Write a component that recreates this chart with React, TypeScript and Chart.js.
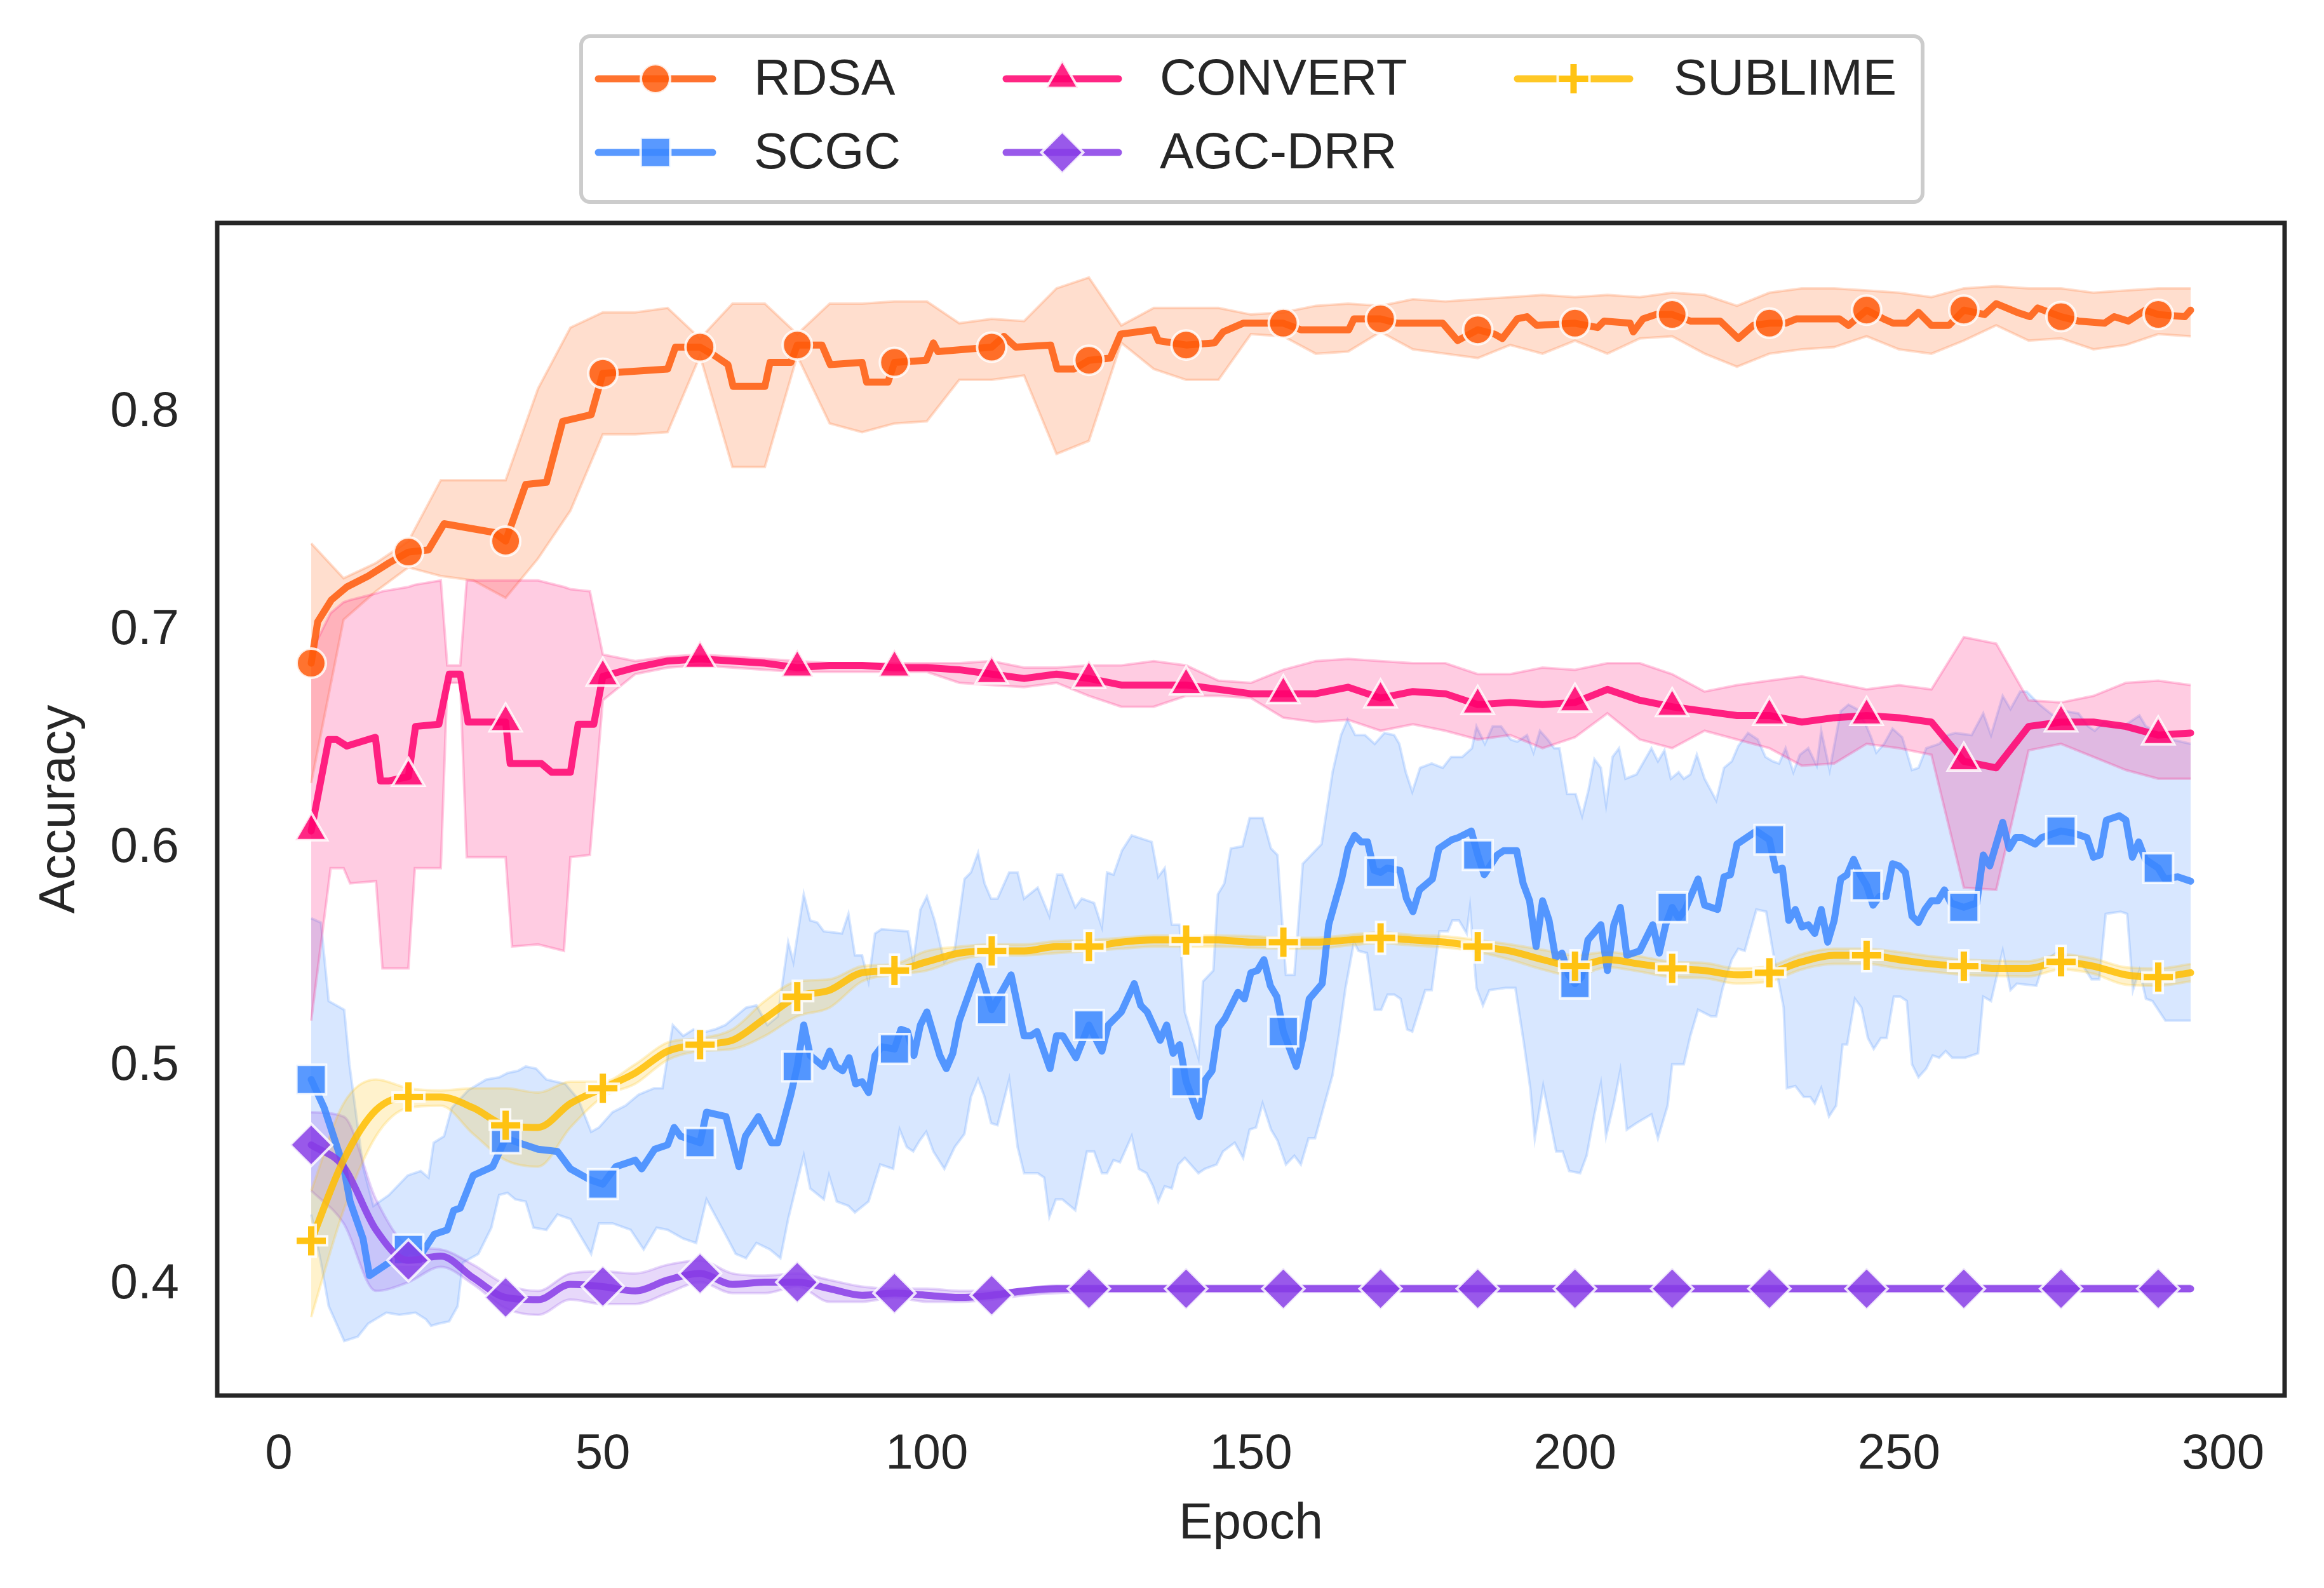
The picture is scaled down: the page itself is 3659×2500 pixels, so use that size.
import React, { useEffect, useRef } from 'react';
import { Chart, registerables } from 'chart.js';
import { drawPoint } from 'chart.js/helpers';

Chart.register(...registerables);

// ---------------- data ----------------
const epochs = [5, 10, 15, 20, 25, 30, 35, 40, 45, 50, 55, 60, 65, 70, 75, 80, 85, 90, 95, 100, 105, 110, 115, 120, 125, 130, 135, 140, 145, 150, 155, 160, 165, 170, 175, 180, 185, 190, 195, 200, 205, 210, 215, 220, 225, 230, 235, 240, 245, 250, 255, 260, 265, 270, 275, 280, 285, 290, 295];

// RDSA
const rdsaLineEpochs = [5, 6, 8.1, 10.5, 13.8, 17, 20, 23.1, 25.5, 33.2, 35, 38.1, 41.3, 43.8, 48.2, 50, 60, 61.2, 65, 67.3, 69.3, 70.1, 75, 75.8, 79, 80, 83.8, 85.1, 90, 90.7, 94, 95, 99.9, 101, 101.7, 110, 111.9, 113.7, 119.1, 120.1, 122.7, 125, 128.3, 129.9, 135, 135.7, 140, 144.4, 145.7, 148.8, 155, 157.7, 165.1, 165.9, 170, 172.6, 179.6, 181.9, 185, 187.6, 188.8, 191.1, 192.6, 194.1, 200, 203.5, 204.5, 208.5, 209, 210.5, 212.5, 215, 217.8, 222.4, 225.2, 227.5, 230, 232.5, 234.2, 240.8, 242.2, 245, 247.6, 249.1, 251.2, 253, 255, 257.7, 260, 263.2, 265, 268.2, 270.2, 271.4, 275, 277.7, 281.7, 283.2, 285.4, 288, 290, 294.1, 295];
const rdsaLine = [0.685, 0.704, 0.714, 0.720, 0.725, 0.731, 0.736, 0.737, 0.749, 0.745, 0.741, 0.767, 0.768, 0.796, 0.799, 0.818, 0.820, 0.830, 0.830, 0.826, 0.822, 0.812, 0.812, 0.823, 0.823, 0.831, 0.831, 0.822, 0.823, 0.814, 0.814, 0.823, 0.824, 0.832, 0.828, 0.830, 0.835, 0.830, 0.831, 0.820, 0.820, 0.824, 0.825, 0.836, 0.838, 0.833, 0.831, 0.832, 0.837, 0.841, 0.841, 0.838, 0.838, 0.843, 0.843, 0.841, 0.841, 0.833, 0.838, 0.836, 0.834, 0.843, 0.844, 0.840, 0.841, 0.839, 0.842, 0.841, 0.837, 0.843, 0.845, 0.845, 0.842, 0.842, 0.834, 0.840, 0.841, 0.841, 0.843, 0.843, 0.840, 0.847, 0.843, 0.841, 0.841, 0.846, 0.840, 0.840, 0.847, 0.845, 0.850, 0.846, 0.844, 0.848, 0.844, 0.842, 0.841, 0.844, 0.842, 0.847, 0.845, 0.844, 0.847];
const rdsaLow = [0.630, 0.705, 0.718, 0.729, 0.725, 0.723, 0.715, 0.733, 0.755, 0.790,
  0.790, 0.791, 0.826, 0.775, 0.775, 0.826, 0.795, 0.791, 0.795, 0.796,
  0.815, 0.815, 0.817, 0.781, 0.787, 0.832, 0.820, 0.815, 0.815, 0.836,
  0.835, 0.827, 0.828, 0.837, 0.829, 0.827, 0.825, 0.831, 0.827, 0.833,
  0.827, 0.834, 0.835, 0.827, 0.821, 0.827, 0.829, 0.830, 0.835, 0.829,
  0.827, 0.833, 0.840, 0.833, 0.834, 0.829, 0.831, 0.836, 0.835];
const rdsaHigh = [0.740, 0.724, 0.731, 0.741, 0.769, 0.769, 0.769, 0.811, 0.839, 0.846,
  0.846, 0.848, 0.834, 0.850, 0.850, 0.836, 0.850, 0.850, 0.851, 0.851,
  0.841, 0.843, 0.842, 0.857, 0.862, 0.840, 0.848, 0.848, 0.848, 0.845,
  0.846, 0.849, 0.850, 0.849, 0.852, 0.851, 0.852, 0.853, 0.854, 0.853,
  0.854, 0.853, 0.855, 0.854, 0.849, 0.855, 0.857, 0.857, 0.856, 0.855,
  0.853, 0.857, 0.858, 0.857, 0.857, 0.855, 0.856, 0.857, 0.857];

// SCGC
const scgcLineEpochs = [5, 7, 10, 11, 13, 14, 17, 19, 20, 22, 24, 26, 27, 28, 30, 33, 35, 38, 40, 43, 45, 48, 50, 52, 55, 56, 58, 60, 61, 62, 65, 66, 69, 71, 72, 74, 76, 77, 79, 80, 81, 82, 84, 85, 86, 87, 88, 89, 90, 91, 92, 93, 95, 96, 97, 98, 99, 100, 102, 103, 104, 105, 108, 110, 113, 115, 116, 117, 119, 120, 121, 123, 125, 127, 128, 130, 132, 133, 134, 136, 137, 138, 139, 140, 142, 143, 144, 145, 146, 148, 149, 150, 151, 152, 153, 154, 155, 157, 158, 159, 161, 162, 164, 165, 166, 167, 168, 169, 170, 171, 173, 174, 175, 176, 178, 179, 181, 182, 184, 185, 186, 188, 189, 191, 192, 193, 194, 195, 196, 197, 198, 199, 200, 201, 202, 204, 205, 206, 207, 208, 210, 212, 213, 214, 215, 216, 217, 219, 220, 222, 223, 224, 225, 227, 228, 230, 231, 232, 233, 234, 235, 236, 237, 238, 239, 240, 241, 242, 243, 244, 245, 246, 247, 248, 249, 250, 251, 252, 253, 254, 255, 256, 257, 258, 260, 262, 263, 264, 266, 267, 268, 269, 271, 272, 274, 275, 277, 279, 280, 281, 282, 284, 285, 286, 287, 288, 290, 291, 293, 295];
const scgcLine = [0.494, 0.481, 0.454, 0.438, 0.421, 0.404, 0.410, 0.412, 0.416, 0.414, 0.423, 0.425, 0.434, 0.435, 0.450, 0.454, 0.467, 0.464, 0.462, 0.461, 0.453, 0.448, 0.446, 0.454, 0.457, 0.453, 0.462, 0.464, 0.472, 0.468, 0.465, 0.479, 0.477, 0.454, 0.468, 0.477, 0.465, 0.465, 0.487, 0.500, 0.519, 0.505, 0.500, 0.507, 0.500, 0.498, 0.504, 0.492, 0.493, 0.488, 0.505, 0.509, 0.508, 0.517, 0.516, 0.505, 0.519, 0.525, 0.505, 0.499, 0.506, 0.521, 0.546, 0.526, 0.542, 0.514, 0.514, 0.516, 0.499, 0.514, 0.514, 0.504, 0.519, 0.507, 0.519, 0.525, 0.538, 0.528, 0.525, 0.512, 0.519, 0.506, 0.510, 0.493, 0.477, 0.494, 0.498, 0.518, 0.522, 0.534, 0.531, 0.543, 0.544, 0.549, 0.537, 0.532, 0.516, 0.500, 0.513, 0.531, 0.538, 0.565, 0.586, 0.600, 0.606, 0.603, 0.603, 0.590, 0.589, 0.591, 0.590, 0.577, 0.571, 0.581, 0.586, 0.600, 0.604, 0.605, 0.608, 0.597, 0.588, 0.597, 0.599, 0.599, 0.584, 0.576, 0.555, 0.576, 0.567, 0.550, 0.552, 0.542, 0.538, 0.541, 0.558, 0.565, 0.544, 0.565, 0.573, 0.551, 0.553, 0.565, 0.552, 0.565, 0.573, 0.568, 0.572, 0.586, 0.574, 0.572, 0.587, 0.588, 0.602, 0.606, 0.608, 0.604, 0.590, 0.591, 0.567, 0.572, 0.564, 0.565, 0.561, 0.572, 0.557, 0.567, 0.586, 0.588, 0.595, 0.588, 0.583, 0.574, 0.578, 0.578, 0.593, 0.592, 0.589, 0.569, 0.566, 0.572, 0.576, 0.576, 0.581, 0.575, 0.573, 0.575, 0.597, 0.592, 0.612, 0.600, 0.605, 0.605, 0.602, 0.605, 0.607, 0.608, 0.607, 0.605, 0.596, 0.597, 0.613, 0.615, 0.613, 0.596, 0.603, 0.595, 0.591, 0.586, 0.587, 0.585];
const scgcHighEpochs = [5, 6.5, 7.7, 10.1, 10.9, 13, 14.6, 17, 19.9, 21.9, 23.1, 23.9, 25.5, 26.7, 29.2, 32, 34, 35.3, 36.9, 38.1, 39.7, 41.3, 44.2, 46.2, 48.2, 49.4, 51.5, 53.5, 55.5, 57.9, 59.2, 60.8, 62.4, 64, 66, 67.3, 68.9, 70.5, 72.1, 73.7, 75.4, 77, 78.6, 79.4, 81, 82, 83.1, 84.1, 86.9, 87.9, 88.9, 90, 91, 92, 93, 97.1, 97.9, 99, 100, 101.2, 102.7, 104.3, 105.8, 106.8, 107.9, 108.9, 109.9, 110.9, 112.7, 114, 115, 117.1, 118.9, 120.1, 120.9, 122.9, 123.9, 125.8, 127, 127.8, 128.8, 130.1, 131.6, 134.7, 135.7, 136.7, 137.8, 139, 139.8, 141.9, 142.6, 144.2, 144.9, 145.9, 146.9, 148.7, 149.8, 151.8, 153.1, 154.1, 155.4, 156.7, 158, 160.9, 162.6, 163.9, 164.9, 166.1, 167.6, 169.1, 170.6, 172.1, 172.9, 173.9, 174.9, 176.1, 177.9, 179.6, 180.9, 182.6, 184.1, 184.8, 186.1, 187.3, 188.6, 190.1, 191.1, 192.6, 193.6, 194.6, 195.8, 196.8, 197.6, 198.8, 200.1, 201.1, 202.1, 203, 204, 204.8, 205.8, 206.8, 207.8, 209.5, 211.8, 212.8, 213.8, 214.8, 216, 216.8, 217.8, 218.8, 220, 221.8, 223, 224.2, 225.2, 226.7, 228.2, 229.4, 230.5, 231.5, 232.5, 233.7, 234.7, 236, 237.3, 238, 239.3, 241, 242.2, 243.5, 244.7, 245.7, 246.5, 247.7, 249, 250.5, 252, 253, 254.2, 256.2, 257.5, 258.7, 261.2, 263, 264.2, 266, 267.2, 268.7, 269.7, 271.7, 274.2, 275.7, 277.7, 279.2, 280.2, 281.6, 283.1, 285.1, 287.1, 288.1, 290.1, 292.1, 295];
const scgcHigh = [0.568, 0.566, 0.530, 0.526, 0.501, 0.454, 0.436, 0.441, 0.450, 0.452, 0.449, 0.465, 0.468, 0.481, 0.489, 0.494, 0.495, 0.497, 0.498, 0.500, 0.499, 0.494, 0.492, 0.485, 0.470, 0.472, 0.479, 0.482, 0.487, 0.490, 0.490, 0.519, 0.514, 0.517, 0.516, 0.517, 0.519, 0.523, 0.527, 0.528, 0.519, 0.523, 0.557, 0.548, 0.579, 0.567, 0.566, 0.562, 0.561, 0.570, 0.551, 0.551, 0.539, 0.561, 0.563, 0.562, 0.548, 0.572, 0.578, 0.567, 0.548, 0.554, 0.586, 0.589, 0.598, 0.584, 0.577, 0.577, 0.589, 0.589, 0.577, 0.582, 0.569, 0.588, 0.588, 0.573, 0.577, 0.575, 0.564, 0.589, 0.588, 0.599, 0.606, 0.603, 0.587, 0.591, 0.565, 0.565, 0.525, 0.504, 0.539, 0.544, 0.579, 0.584, 0.600, 0.601, 0.614, 0.614, 0.600, 0.597, 0.542, 0.542, 0.593, 0.602, 0.635, 0.652, 0.659, 0.652, 0.652, 0.648, 0.653, 0.652, 0.648, 0.635, 0.626, 0.637, 0.639, 0.637, 0.642, 0.642, 0.646, 0.656, 0.648, 0.656, 0.656, 0.650, 0.649, 0.652, 0.644, 0.654, 0.650, 0.646, 0.646, 0.625, 0.625, 0.615, 0.627, 0.641, 0.637, 0.620, 0.642, 0.646, 0.632, 0.634, 0.646, 0.640, 0.645, 0.632, 0.635, 0.632, 0.634, 0.643, 0.632, 0.622, 0.637, 0.640, 0.647, 0.653, 0.650, 0.642, 0.640, 0.639, 0.646, 0.635, 0.643, 0.646, 0.638, 0.654, 0.636, 0.663, 0.666, 0.664, 0.658, 0.651, 0.644, 0.648, 0.655, 0.651, 0.636, 0.637, 0.646, 0.648, 0.652, 0.653, 0.652, 0.662, 0.652, 0.670, 0.664, 0.672, 0.672, 0.666, 0.660, 0.663, 0.662, 0.656, 0.654, 0.658, 0.656, 0.657, 0.661, 0.656, 0.653, 0.650, 0.648];
const scgcLowEpochs = [5, 6.5, 7.7, 10.1, 12.2, 13.8, 16.6, 18.6, 21.1, 22.7, 23.5, 24.7, 26.3, 27.6, 28.4, 30.8, 32.8, 34, 35.3, 36.5, 38.1, 39.3, 41.3, 43, 45, 46.6, 48.2, 49.4, 51.5, 54.3, 56.3, 58.3, 60, 62.4, 64.4, 66, 66.9, 68.9, 70.5, 72.1, 73.7, 75.8, 77.4, 78.6, 81, 82, 84.1, 84.9, 86.1, 87.9, 88.9, 91, 92.8, 94.8, 95.8, 96.9, 97.9, 98.9, 99.9, 101, 102.7, 104.3, 105.8, 106.8, 107.9, 108.9, 109.9, 110.9, 112.7, 114, 115, 117.1, 118.1, 118.9, 119.9, 120.9, 122.9, 124.7, 125.8, 127, 127.8, 128.8, 129.8, 131.6, 132.7, 133.9, 134.9, 135.7, 136.7, 137.8, 138.8, 139.8, 141.9, 142.9, 144.7, 145.7, 147.5, 148.8, 149.8, 150.8, 151.8, 153.1, 154.1, 155.4, 156.7, 157.7, 158.9, 159.9, 161.1, 162.6, 163.6, 164.6, 165.9, 166.6, 167.9, 169.1, 170.1, 171.1, 172.1, 173.1, 174.1, 174.9, 176.9, 177.9, 179.1, 180.4, 181.1, 182.1, 183.3, 183.8, 184.8, 185.8, 186.8, 189.3, 190.8, 192.1, 193.1, 193.8, 195.1, 196.1, 197.1, 198.1, 199.1, 200.8, 201.8, 203, 204, 204.8, 206, 207, 208, 209.5, 211.8, 212.8, 214.3, 215, 216.8, 217.8, 219, 221, 221.8, 222.8, 224.2, 225.2, 226.2, 228, 229.5, 230.7, 232.2, 232.7, 234, 235.3, 236.3, 237, 238, 239.2, 240.3, 241.3, 242, 243.2, 244.2, 245.2, 246.1, 247.2, 248.1, 249.2, 250.2, 251.2, 252, 253, 254.2, 255.2, 256.2, 257.2, 258.2, 260.2, 262.2, 263, 264.2, 266, 267.2, 268.2, 271.2, 272.4, 274.2, 276.2, 277.2, 278.2, 279.7, 280.9, 281.9, 284.2, 285.2, 286.1, 287.1, 288.1, 289.1, 291.1, 293.1, 295];
const scgcLow = [0.432, 0.410, 0.390, 0.374, 0.376, 0.382, 0.387, 0.386, 0.387, 0.384, 0.381, 0.382, 0.383, 0.390, 0.410, 0.414, 0.426, 0.441, 0.442, 0.439, 0.438, 0.426, 0.425, 0.432, 0.430, 0.422, 0.414, 0.428, 0.428, 0.425, 0.416, 0.426, 0.425, 0.421, 0.419, 0.439, 0.434, 0.423, 0.414, 0.412, 0.419, 0.416, 0.412, 0.430, 0.459, 0.444, 0.439, 0.450, 0.438, 0.436, 0.433, 0.438, 0.455, 0.453, 0.471, 0.463, 0.461, 0.466, 0.470, 0.461, 0.453, 0.463, 0.469, 0.486, 0.494, 0.486, 0.474, 0.473, 0.494, 0.463, 0.451, 0.451, 0.449, 0.431, 0.439, 0.439, 0.434, 0.461, 0.461, 0.451, 0.451, 0.457, 0.456, 0.468, 0.453, 0.451, 0.445, 0.438, 0.445, 0.444, 0.455, 0.458, 0.451, 0.453, 0.455, 0.461, 0.465, 0.458, 0.471, 0.472, 0.483, 0.471, 0.466, 0.455, 0.459, 0.455, 0.467, 0.467, 0.480, 0.496, 0.515, 0.536, 0.557, 0.553, 0.552, 0.526, 0.526, 0.533, 0.533, 0.531, 0.517, 0.516, 0.535, 0.535, 0.562, 0.562, 0.567, 0.567, 0.561, 0.573, 0.536, 0.528, 0.535, 0.536, 0.536, 0.511, 0.490, 0.467, 0.491, 0.476, 0.461, 0.461, 0.452, 0.451, 0.459, 0.478, 0.492, 0.468, 0.483, 0.498, 0.471, 0.474, 0.478, 0.467, 0.482, 0.501, 0.501, 0.514, 0.526, 0.523, 0.523, 0.536, 0.549, 0.554, 0.553, 0.572, 0.571, 0.550, 0.527, 0.490, 0.491, 0.486, 0.486, 0.483, 0.490, 0.477, 0.482, 0.510, 0.510, 0.531, 0.527, 0.513, 0.508, 0.513, 0.513, 0.532, 0.532, 0.530, 0.501, 0.495, 0.499, 0.505, 0.504, 0.507, 0.504, 0.504, 0.506, 0.532, 0.530, 0.553, 0.535, 0.538, 0.537, 0.548, 0.552, 0.550, 0.548, 0.547, 0.540, 0.540, 0.570, 0.571, 0.570, 0.535, 0.544, 0.531, 0.530, 0.521, 0.521, 0.521];

// CONVERT
const convertLineEpochs = [5, 7.7, 8.9, 10.5, 14.9, 15.7, 17, 20, 21.1, 24.7, 26.3, 28, 29.2, 33.6, 35, 35.7, 40.5, 42.1, 45, 46.2, 48.6, 50, 55, 60, 65, 70, 75, 80, 85, 90, 95, 100, 105, 110, 115, 120, 125, 130, 135, 140, 145, 150, 155, 160, 165, 170, 175, 180, 185, 190, 195, 200, 205, 210, 215, 220, 225, 230, 235, 240, 245, 250, 255, 260, 265, 270, 275, 280, 285, 290, 295];
const convertLine = [0.608, 0.650, 0.650, 0.647, 0.651, 0.631, 0.631, 0.633, 0.656, 0.657, 0.680, 0.680, 0.658, 0.658, 0.658, 0.639, 0.639, 0.635, 0.635, 0.657, 0.657, 0.679,
  0.683, 0.686, 0.687, 0.686, 0.685, 0.683, 0.684, 0.684, 0.683, 0.683,
  0.682, 0.680, 0.678, 0.680, 0.678, 0.675, 0.675, 0.675, 0.673, 0.671,
  0.671, 0.671, 0.674, 0.669, 0.672, 0.671, 0.666, 0.667, 0.666, 0.667,
  0.673, 0.668, 0.665, 0.663, 0.661, 0.661, 0.658, 0.660, 0.661, 0.660,
  0.658, 0.640, 0.637, 0.656, 0.658, 0.658, 0.656, 0.652, 0.653];
const convertBandEpochs = [5, 8, 10, 11, 15, 16, 20, 21, 25, 26, 28, 29, 35, 36, 40, 44, 45, 48, 50, 55, 60, 65, 70, 75, 80, 85, 90, 95, 100, 105, 110, 115, 120, 125, 130, 135, 140, 145, 150, 155, 160, 165, 170, 175, 180, 185, 190, 195, 200, 205, 210, 215, 220, 225, 230, 235, 240, 245, 250, 255, 260, 265, 270, 275, 280, 285, 290, 295];
const convertLow = [0.521, 0.591, 0.591, 0.584, 0.585, 0.545, 0.545, 0.591, 0.591, 0.676, 0.676, 0.596, 0.596, 0.555, 0.556, 0.553, 0.596, 0.597, 0.668,
  0.680, 0.683, 0.684, 0.683, 0.682, 0.681, 0.681, 0.681, 0.681, 0.681,
  0.676, 0.675, 0.674, 0.676, 0.670, 0.665, 0.665, 0.670, 0.670, 0.669,
  0.660, 0.658, 0.659, 0.654, 0.657, 0.654, 0.650, 0.652, 0.646, 0.651,
  0.662, 0.650, 0.646, 0.654, 0.650, 0.646, 0.638, 0.639, 0.648, 0.646,
  0.643, 0.582, 0.581, 0.645, 0.648, 0.642, 0.636, 0.632, 0.632];
const convertHigh = [0.690, 0.708, 0.713, 0.714, 0.717, 0.718, 0.720, 0.721, 0.723, 0.684, 0.684, 0.723, 0.723, 0.723, 0.723, 0.720, 0.719, 0.718, 0.689,
  0.686, 0.688, 0.689, 0.688, 0.687, 0.686, 0.685, 0.685, 0.685, 0.685,
  0.685, 0.686, 0.683, 0.683, 0.684, 0.684, 0.686, 0.684, 0.677, 0.676,
  0.682, 0.686, 0.687, 0.686, 0.685, 0.685, 0.680, 0.680, 0.683, 0.682,
  0.685, 0.685, 0.680, 0.672, 0.675, 0.677, 0.679, 0.676, 0.673, 0.675,
  0.673, 0.697, 0.694, 0.668, 0.667, 0.670, 0.676, 0.677, 0.675];

// AGC-DRR
const agcMean = [0.464, 0.454, 0.425, 0.411, 0.413, 0.403, 0.394, 0.393, 0.400, 0.399,
  0.397, 0.402, 0.405, 0.400, 0.401, 0.401, 0.398, 0.395, 0.396, 0.395,
  0.394, 0.395, 0.397, 0.398, 0.398, 0.398, 0.398, 0.398, 0.398, 0.398,
  0.398, 0.398, 0.398, 0.398, 0.398, 0.398, 0.398, 0.398, 0.398, 0.398,
  0.398, 0.398, 0.398, 0.398, 0.398, 0.398, 0.398, 0.398, 0.398, 0.398,
  0.398, 0.398, 0.398, 0.398, 0.398, 0.398, 0.398, 0.398, 0.398];
const agcLow = [0.443, 0.428, 0.397, 0.401, 0.408, 0.400, 0.389, 0.386, 0.393, 0.391,
  0.391, 0.396, 0.401, 0.396, 0.396, 0.399, 0.392, 0.392, 0.394, 0.392,
  0.392, 0.393, 0.395, 0.396, 0.3965, 0.3965, 0.3965, 0.3965, 0.3965, 0.3965,
  0.3965, 0.3965, 0.3965, 0.3965, 0.3965, 0.3965, 0.3965, 0.3965, 0.3965, 0.3965,
  0.3965, 0.3965, 0.3965, 0.3965, 0.3965, 0.3965, 0.3965, 0.3965, 0.3965, 0.3965,
  0.3965, 0.3965, 0.3965, 0.3965, 0.3965, 0.3965, 0.3965, 0.3965, 0.3965];
const agcHigh = [0.479, 0.477, 0.439, 0.418, 0.416, 0.409, 0.400, 0.397, 0.405, 0.406,
  0.405, 0.409, 0.411, 0.405, 0.404, 0.405, 0.402, 0.399, 0.398, 0.398,
  0.397, 0.397, 0.398, 0.3995, 0.3995, 0.3995, 0.3995, 0.3995, 0.3995, 0.3995,
  0.3995, 0.3995, 0.3995, 0.3995, 0.3995, 0.3995, 0.3995, 0.3995, 0.3995, 0.3995,
  0.3995, 0.3995, 0.3995, 0.3995, 0.3995, 0.3995, 0.3995, 0.3995, 0.3995, 0.3995,
  0.3995, 0.3995, 0.3995, 0.3995, 0.3995, 0.3995, 0.3995, 0.3995, 0.3995];

// SUBLIME
const sublimeMean = [0.420, 0.457, 0.480, 0.486, 0.486, 0.481, 0.473, 0.472, 0.483, 0.490,
  0.497, 0.507, 0.510, 0.512, 0.522, 0.532, 0.535, 0.543, 0.544, 0.548,
  0.552, 0.553, 0.553, 0.555, 0.555, 0.557, 0.558, 0.558, 0.558, 0.557,
  0.557, 0.557, 0.558, 0.559, 0.558, 0.557, 0.555, 0.553, 0.549, 0.546,
  0.549, 0.547, 0.545, 0.544, 0.542, 0.543, 0.548, 0.551, 0.551, 0.549,
  0.547, 0.546, 0.545, 0.545, 0.548, 0.546, 0.542, 0.541, 0.543];
const sublimeLow = [0.385, 0.434, 0.468, 0.481, 0.482, 0.469, 0.457, 0.454, 0.472, 0.486,
  0.492, 0.503, 0.507, 0.508, 0.514, 0.523, 0.527, 0.539, 0.542, 0.544,
  0.549, 0.551, 0.551, 0.552, 0.553, 0.554, 0.555, 0.555, 0.555, 0.5545,
  0.554, 0.554, 0.5555, 0.5565, 0.5555, 0.5545, 0.5525, 0.549, 0.5445, 0.5415,
  0.5455, 0.5435, 0.541, 0.5405, 0.538, 0.539, 0.5445, 0.547, 0.547, 0.545,
  0.5435, 0.542, 0.5415, 0.5413, 0.5445, 0.5425, 0.5375, 0.537, 0.539];
const sublimeHigh = [0.443, 0.483, 0.494, 0.490, 0.489, 0.490, 0.490, 0.488, 0.493, 0.493,
  0.501, 0.511, 0.513, 0.517, 0.530, 0.539, 0.540, 0.546, 0.547, 0.553,
  0.555, 0.556, 0.556, 0.5575, 0.558, 0.559, 0.560, 0.560, 0.560, 0.5598,
  0.559, 0.559, 0.5603, 0.5615, 0.5603, 0.5597, 0.558, 0.556, 0.5535, 0.551,
  0.5525, 0.5505, 0.548, 0.5475, 0.545, 0.546, 0.5515, 0.554, 0.554, 0.5525,
  0.5505, 0.549, 0.5485, 0.5483, 0.5515, 0.5495, 0.5455, 0.545, 0.547];

const xTicks = [0, 50, 100, 150, 200, 250, 300];
const yTicks = [0.4, 0.5, 0.6, 0.7, 0.8];
const seriesNames = ['RDSA', 'SCGC', 'CONVERT', 'AGC-DRR', 'SUBLIME'];

// ---------------- styles ----------------
const FONT = '"Liberation Sans", Arial, sans-serif';
const TEXT = '#262626';
const colors: Record<string, number[]> = {
  RDSA: [255, 90, 10],
  SCGC: [60, 135, 255],
  CONVERT: [255, 0, 110],
  'AGC-DRR': [135, 60, 230],
  SUBLIME: [255, 190, 0],
};
const markerStyle: Record<string, { style: string; r: number }> = {
  RDSA: { style: 'circle', r: 23 },
  SCGC: { style: 'rect', r: 33 },
  CONVERT: { style: 'triangle', r: 29 },
  'AGC-DRR': { style: 'rectRot', r: 33 },
  SUBLIME: { style: 'plus', r: 26 },
};

const rgba = (c: number[], a: number) => `rgba(${c[0]},${c[1]},${c[2]},${a})`;

function makePlus(c: number[]) {
  const cv = document.createElement('canvas');
  cv.width = 62;
  cv.height = 62;
  const g = cv.getContext('2d')!;
  const m = 31;
  g.lineCap = 'butt';
  g.strokeStyle = 'rgba(255,255,255,0.85)';
  g.lineWidth = 18;
  g.beginPath();
  g.moveTo(m - 27, m); g.lineTo(m + 27, m);
  g.moveTo(m, m - 27); g.lineTo(m, m + 27);
  g.stroke();
  g.strokeStyle = rgba(c, 0.92);
  g.lineWidth = 10;
  g.beginPath();
  g.moveTo(m - 23, m); g.lineTo(m + 23, m);
  g.moveTo(m, m - 23); g.lineTo(m, m + 23);
  g.stroke();
  return cv;
}

const xy = (xs: number[], ys: number[]) => xs.map((x, i) => ({ x, y: ys[i] }));

export default function App() {
  const ref = useRef<HTMLCanvasElement>(null);

  useEffect(() => {
    if (!ref.current) return;
    const plusImg = makePlus(colors.SUBLIME);
    const table: Record<string, { line: any[]; lo: any[]; hi: any[]; smooth: boolean }> = {
      RDSA: { line: xy(rdsaLineEpochs, rdsaLine), lo: xy(epochs, rdsaLow), hi: xy(epochs, rdsaHigh), smooth: false },
      SCGC: { line: xy(scgcLineEpochs, scgcLine), lo: xy(scgcLowEpochs, scgcLow), hi: xy(scgcHighEpochs, scgcHigh), smooth: false },
      CONVERT: { line: xy(convertLineEpochs, convertLine), lo: xy(convertBandEpochs, convertLow), hi: xy(convertBandEpochs, convertHigh), smooth: false },
      'AGC-DRR': { line: xy(epochs, agcMean), lo: xy(epochs, agcLow), hi: xy(epochs, agcHigh), smooth: true },
      SUBLIME: { line: xy(epochs, sublimeMean), lo: xy(epochs, sublimeLow), hi: xy(epochs, sublimeHigh), smooth: true },
    };

    const datasets: any[] = [];
    seriesNames.forEach((name, si) => {
      const c = colors[name];
      const t = table[name];
      const interp = t.smooth ? 'monotone' : 'default';
      datasets.push({
        label: name + ' hi', data: t.hi, borderColor: rgba(c, 0.2), borderWidth: 4,
        pointRadius: 0, pointHoverRadius: 0, fill: false, order: 100 + (10 - si * 2),
        cubicInterpolationMode: interp,
      });
      datasets.push({
        label: name + ' lo', data: t.lo, borderColor: rgba(c, 0.2), borderWidth: 4,
        pointRadius: 0, pointHoverRadius: 0, fill: '-1', backgroundColor: rgba(c, 0.2),
        order: 100 + (9 - si * 2), cubicInterpolationMode: interp,
      });
    });
    const isMark = (ctx: any) => {
      const x = ctx && ctx.raw ? ctx.raw.x : undefined;
      return typeof x === 'number' && Number.isInteger(x) && (x - 5) % 15 === 0;
    };
    seriesNames.forEach((name, si) => {
      const c = colors[name];
      const t = table[name];
      const ms = markerStyle[name];
      datasets.push({
        label: name, data: t.line, borderColor: rgba(c, 0.85), borderWidth: 11,
        borderJoinStyle: 'round', borderCapStyle: 'round', fill: false,
        cubicInterpolationMode: t.smooth ? 'monotone' : 'default',
        pointStyle: name === 'SUBLIME' ? plusImg : ms.style,
        pointRadius: (ctx: any) => (isMark(ctx) ? ms.r : 0),
        pointHoverRadius: 0,
        pointBackgroundColor: rgba(c, 0.85),
        pointBorderColor: 'rgba(255,255,255,0.85)',
        pointBorderWidth: 4,
        order: 5 - si,
      });
    });

    const framePlugin = {
      id: 'frameAndLegend',
      afterDatasetsDraw(chart: any) {
        const { ctx, chartArea: a } = chart;
        ctx.save();
        ctx.strokeStyle = TEXT;
        ctx.lineWidth = 7;
        ctx.strokeRect(a.left, a.top, a.right - a.left, a.bottom - a.top);
        ctx.restore();
      },
      afterDraw(chart: any) {
        const ctx: CanvasRenderingContext2D = chart.ctx;
        ctx.save();
        ctx.beginPath();
        (ctx as any).roundRect(915, 57, 2112, 261, 14);
        ctx.fillStyle = 'rgba(255,255,255,0.8)';
        ctx.fill();
        ctx.lineWidth = 6;
        ctx.strokeStyle = '#cccccc';
        ctx.stroke();
        const cols = [
          { x0: 942, x1: 1122, tx: 1187 },
          { x0: 1584, x1: 1761, tx: 1826 },
          { x0: 2389, x1: 2566, tx: 2635 },
        ];
        const rows = [124, 240];
        const place: [string, number, number][] = [
          ['RDSA', 0, 0], ['SCGC', 0, 1], ['CONVERT', 1, 0], ['AGC-DRR', 1, 1], ['SUBLIME', 2, 0],
        ];
        place.forEach(([name, ci, ri]) => {
          const c = colors[name];
          const col = cols[ci];
          const y = rows[ri];
          ctx.beginPath();
          ctx.lineCap = 'round';
          ctx.lineWidth = 11;
          ctx.strokeStyle = rgba(c, 0.85);
          ctx.moveTo(col.x0, y);
          ctx.lineTo(col.x1, y);
          ctx.stroke();
          const mx = (col.x0 + col.x1) / 2;
          const ms = markerStyle[name];
          if (name === 'SUBLIME') {
            ctx.drawImage(plusImg, mx - plusImg.width / 2, y - plusImg.height / 2);
          } else {
            ctx.fillStyle = rgba(c, 0.85);
            ctx.strokeStyle = 'rgba(255,255,255,0.85)';
            ctx.lineWidth = 4;
            drawPoint(ctx, { pointStyle: ms.style as any, radius: ms.r, borderWidth: 4, rotation: 0 } as any, mx, y);
          }
          ctx.fillStyle = TEXT;
          ctx.font = `80px ${FONT}`;
          ctx.textAlign = 'left';
          ctx.textBaseline = 'middle';
          ctx.fillText(name, col.tx, y + 3);
        });
        ctx.restore();
      },
    };

    const chart = new Chart(ref.current, {
      type: 'line',
      data: { datasets },
      options: {
        animation: false,
        responsive: false,
        devicePixelRatio: 1,
        layout: { padding: { top: 351, right: 62, left: 0, bottom: 0 } },
        plugins: { legend: { display: false }, tooltip: { enabled: false } },
        elements: { line: { tension: 0 } },
        scales: {
          x: {
            type: 'linear',
            min: -9.5,
            max: 309.5,
            afterBuildTicks: (s: any) => { s.ticks = xTicks.map((v) => ({ value: v })); },
            afterFit: (s: any) => { s.height = 303; },
            grid: { display: false, drawTicks: false },
            border: { display: false },
            ticks: {
              autoSkip: false, maxRotation: 0, padding: 47, color: TEXT,
              font: { family: FONT, size: 78 },
              callback: (v: any) => String(v),
            },
            title: {
              display: true, text: 'Epoch', color: TEXT,
              font: { family: FONT, size: 80 },
              padding: { top: 0, bottom: 52 },
            },
          },
          y: {
            type: 'linear',
            min: 0.349,
            max: 0.887,
            afterBuildTicks: (s: any) => { s.ticks = yTicks.map((v) => ({ value: v })); },
            afterFit: (s: any) => { s.width = 342; },
            grid: { display: false, drawTicks: false },
            border: { display: false },
            ticks: {
              autoSkip: false, padding: 60, color: TEXT,
              font: { family: FONT, size: 78 },
              callback: (v: any) => Number(v).toFixed(1),
            },
            title: {
              display: true, text: 'Accuracy', color: TEXT,
              font: { family: FONT, size: 80 },
              padding: { top: 47, bottom: 0 },
            },
          },
        },
      } as any,
      plugins: [framePlugin],
    });
    return () => chart.destroy();
  }, []);

  return (
    <div style={{ position: 'absolute', left: 0, top: 0, width: 3659, height: 2500, background: '#fff' }}>
      <canvas ref={ref} width={3659} height={2500} style={{ width: 3659, height: 2500, display: 'block' }} />
    </div>
  );
}
